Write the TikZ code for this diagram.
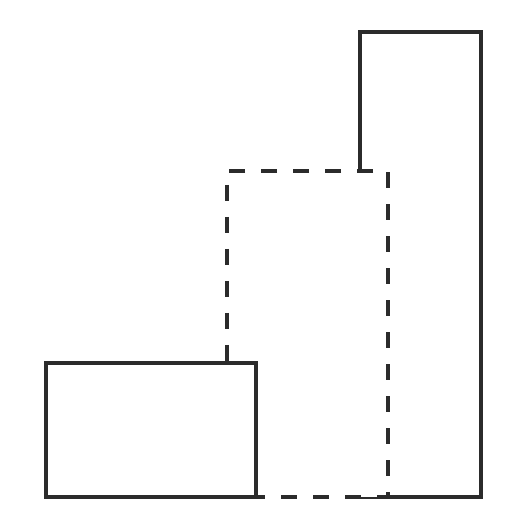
\documentclass[tikz,border=0pt]{standalone}
\usepackage{xcolor}
\usepackage{tikz}
\usetikzlibrary{positioning}

\definecolor{edge}{HTML}{2B2B2B}

\begin{document}
\begin{tikzpicture}[
    box/.style={rectangle, draw=edge, fill=white, line width=1.7mm, anchor=south west, inner sep=0pt, outer sep=0pt},
    hidden/.style={box, dash pattern=on 8mm off 8mm, dash phase=5mm}
]
    \useasboundingbox (0,0) rectangle (264mm,264mm);
    % Three blocks, back to front
    \node[box, minimum width=60.5mm, minimum height=232.5mm] (tall) at (180mm,15.5mm) {};
    \node[hidden, minimum width=80.5mm, minimum height=163mm] (middle) at (113.5mm,15.5mm) {};
    \node[box, minimum width=105mm, minimum height=67mm] (low) at (23mm,15.5mm) {};
\end{tikzpicture}
\end{document}
